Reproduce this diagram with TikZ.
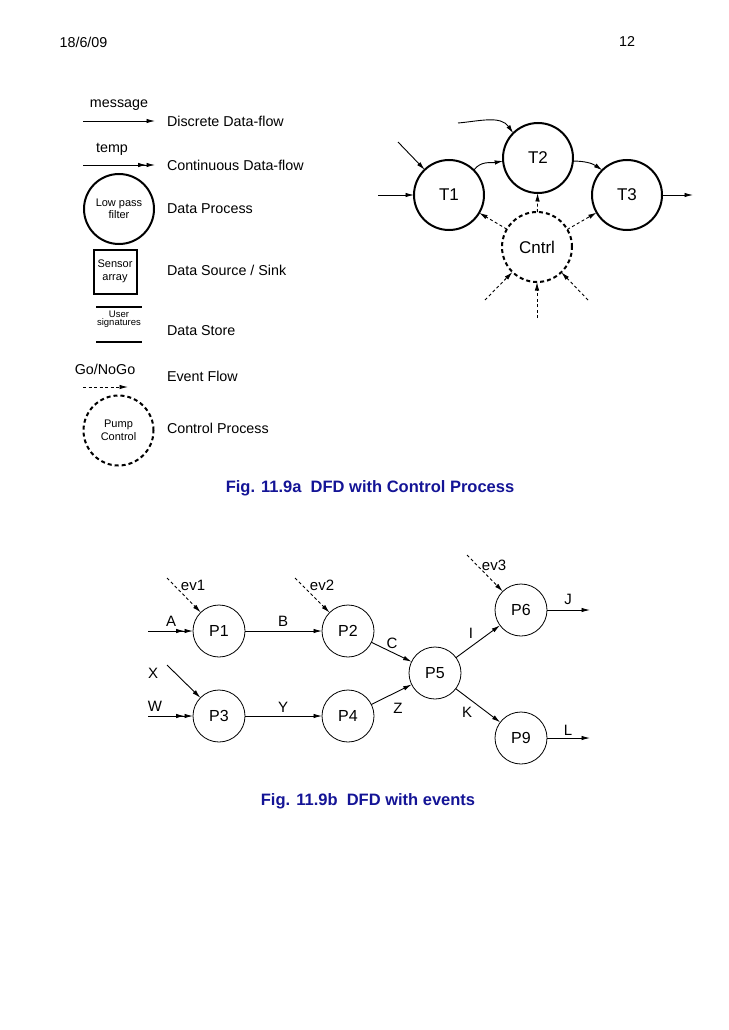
\documentclass[tikz,border=0pt]{standalone}
\usepackage{fontspec}
\setmainfont{Liberation Sans}
\usetikzlibrary{arrows.meta}
\definecolor{capblue}{RGB}{20,20,150}
\begin{document}
\begin{tikzpicture}[x=1pt,y=-1pt,inner sep=0pt,outer sep=0pt,
txt/.style={font=\fontsize{14.3}{16}\selectfont},
lbl/.style={font=\fontsize{15}{17}\selectfont},
small/.style={font=\fontsize{11}{12.5}\selectfont,align=center},
tiny/.style={font=\fontsize{9.5}{8}\selectfont,align=center},
proc/.style={draw,circle,line width=2pt,minimum size=70pt},
ctrlproc/.style={proc,dash pattern=on 4pt off 3pt},
tproc/.style={proc,font=\fontsize{17}{19}\selectfont},
pnode/.style={draw,circle,line width=0.8pt,minimum size=52pt,font=\fontsize{16}{18}\selectfont},
flow/.style={-{Latex[length=8.5pt,width=4.5pt]},line width=0.9pt},
cflow/.style={-{Latex[length=8.5pt,width=4.5pt]Latex[length=8.5pt,width=4.5pt]},line width=0.9pt},
evflow/.style={flow,dash pattern=on 3pt off 2.5pt},
caption/.style={font=\fontsize{16.5}{18}\bfseries\selectfont,text=capblue}]
\useasboundingbox (0,0) rectangle (728,1030);
\node[txt] (date) at (83.5,42) {18/6/09};
\node[txt] (page) at (627,42) {12};

% legend
\coordinate (m1) at (83,121); \coordinate (m2) at (155,121);
\node[txt] (msg) at (119,105) {message};
\draw[flow] (m1) -- (m2);
\node[txt,anchor=west] (dflow) at (167,121) {Discrete Data-flow};
\coordinate (t1) at (83,165); \coordinate (t2) at (155,165);
\node[txt] (temp) at (112,149) {temp};
\draw[cflow] (t1) -- (t2);
\node[txt,anchor=west] (cflow) at (167,165) {Continuous Data-flow};
\node[proc,small] (lpf) at (119,209) {Low pass\\filter};
\node[txt,anchor=west] (dproc) at (167,209) {Data Process};
\node[draw,line width=2pt,minimum width=43pt,minimum height=44pt,small] (sens) at (115,271.5) {Sensor\\array};
\node[txt,anchor=west] (dsrc) at (167,270) {Data Source / Sink};
\node[tiny] (store) at (119,319) {User\\signatures};
\draw[line width=2pt] (96,307) -- (142,307);
\draw[line width=2pt] (96,342) -- (142,342);
\node[txt,anchor=west] (dstore) at (167,331) {Data Store};
\node[txt] (gonogo) at (105,369) {Go/NoGo};
\coordinate (g1) at (83,387); \coordinate (g2) at (128,387);
\draw[evflow] (g1) -- (g2);
\node[txt,anchor=west] (evf) at (167,376) {Event Flow};
\node[ctrlproc,small] (pump) at (118.5,430.5) {Pump\\Control};
\node[txt,anchor=west] (cproc) at (167,428) {Control Process};
\node[caption] (capa) at (370,488) {Fig. 11.9a~~DFD with Control Process};

% control process
\node[tproc] (T1) at (449,195) {T1};
\node[tproc] (T2) at (538,158) {T2};
\node[tproc] (T3) at (627,195) {T3};
\node[tproc,dash pattern=on 4pt off 3pt] (C) at (537,247) {Cntrl};
\coordinate (a1) at (378,195);
\coordinate (a2) at (398,142);
\coordinate (a3) at (458,123);
\coordinate (a4) at (693,195);
\coordinate (e1) at (485,300);
\coordinate (e2) at (537,318);
\coordinate (e3) at (588,300);
\draw[flow] (a1) -- (T1);
\draw[flow] (a2) -- (T1);
\draw[flow] (a3) to[out=5,in=125] (T2.135);
\draw[flow] (T1.45) to[out=55,in=190] (T2.185);
\draw[flow] (T2.-5) to[out=0,in=145] (T3.135);
\draw[flow] (T3) -- (a4);
\draw[evflow] (C) -- (T1);
\draw[evflow] (C) -- (T2);
\draw[evflow] (C) -- (T3);
\foreach \e in {e1,e2,e3} \draw[evflow] (\e) -- (C);

% events
\node[pnode] (P1) at (219,631) {P1};
\node[pnode] (P2) at (348,631) {P2};
\node[pnode] (P3) at (219,716) {P3};
\node[pnode] (P4) at (348,716) {P4};
\node[pnode] (P5) at (435,673) {P5};
\node[pnode] (P6) at (521,610) {P6};
\node[pnode] (P9) at (521,738) {P9};
\coordinate (iA) at (148,631);
\coordinate (iW) at (148,716);
\coordinate (iX) at (167,665);
\coordinate (v1) at (167,578);
\coordinate (v2) at (295,578);
\coordinate (v3) at (467,555);
\coordinate (oJ) at (590,610);
\coordinate (oL) at (590,738);
\draw[cflow] (iA) -- (P1);
\draw[cflow] (iW) -- (P3);
\draw[flow] (iX) -- (P3);
\draw[evflow] (v1) -- (P1);
\draw[evflow] (v2) -- (P2);
\draw[evflow] (v3) -- (P6);
\draw[flow] (P1) -- (P2);
\draw[flow] (P3) -- (P4);
\draw[flow] (P2) -- (P5);
\draw[flow] (P4) -- (P5);
\draw[flow] (P5) -- (P6);
\draw[flow] (P5) -- (P9);
\draw[flow] (P6) -- (oJ);
\draw[flow] (P9) -- (oL);
\node[lbl] (lA) at (171,621) {A};
\node[lbl] (lW) at (155,706) {W};
\node[lbl] (lX) at (153,673) {X};
\node[lbl] (lev1) at (193,585) {ev1};
\node[lbl] (lev2) at (322,585) {ev2};
\node[lbl] (lev3) at (494,565) {ev3};
\node[lbl] (lB) at (283,621) {B};
\node[lbl] (lY) at (283,707) {Y};
\node[lbl] (lC) at (392,643) {C};
\node[lbl] (lZ) at (398,708) {Z};
\node[lbl] (lI) at (471,633) {I};
\node[lbl] (lK) at (467,712) {K};
\node[lbl] (lJ) at (568,599) {J};
\node[lbl] (lL) at (568,730) {L};
\node[caption] (capb) at (368,801) {Fig. 11.9b~~DFD with events};
\end{tikzpicture}
\end{document}
